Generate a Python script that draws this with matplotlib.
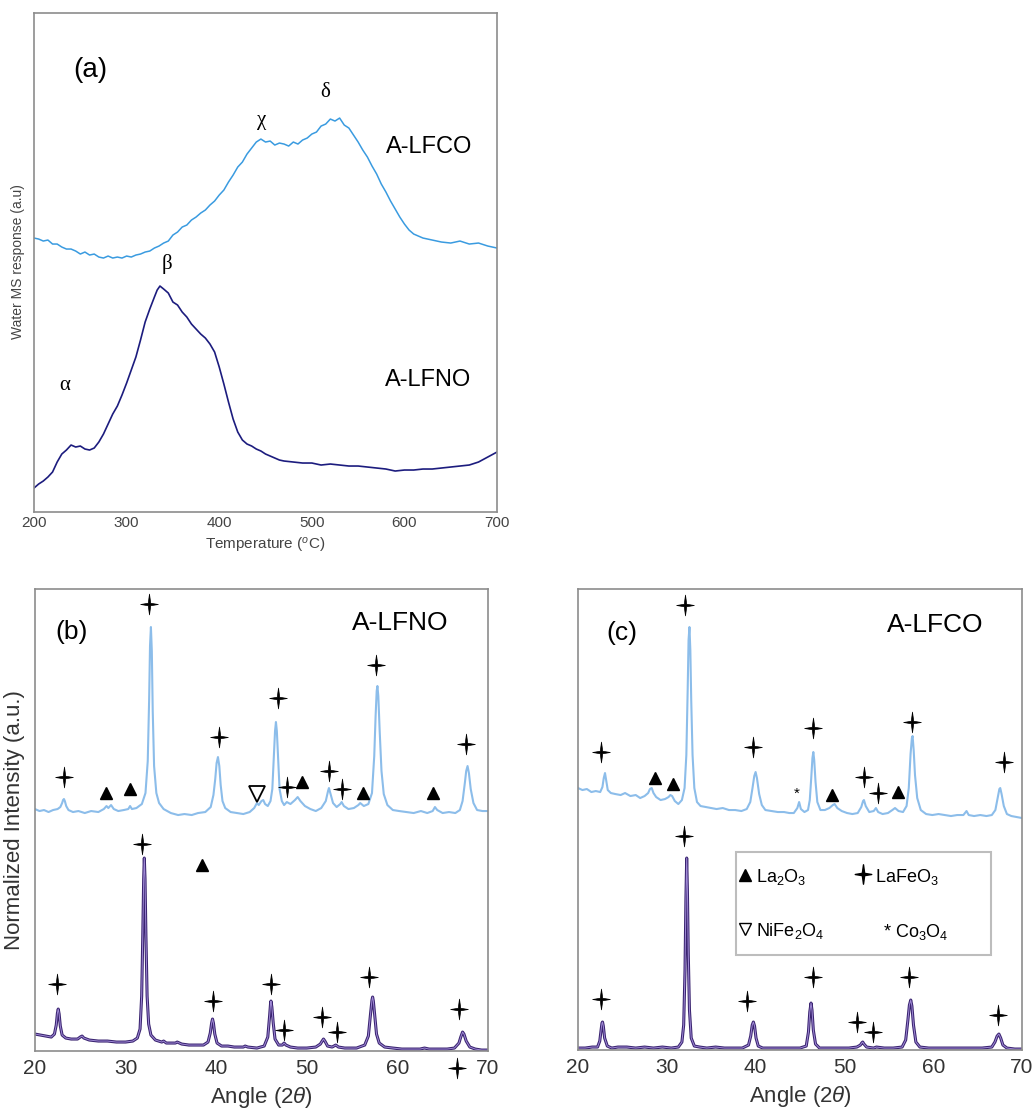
import matplotlib
matplotlib.use('Agg')
import matplotlib.pyplot as plt
from matplotlib.path import Path
from matplotlib.patches import Rectangle

# ---- (a) water TPD traces: (temperature C, response a.u.) ----
lfco_tpd = [(200, 274), (205, 273), (210, 271), (215, 272), (220, 268), (225, 268), (230, 265),
            (235, 263), (240, 263), (245, 261), (250, 258), (255, 260), (260, 257), (265, 258),
            (270, 255), (275, 254), (280, 256), (285, 254), (290, 255), (295, 254), (300, 256),
            (305, 255), (310, 257), (315, 258), (320, 260), (325, 261), (330, 264), (335, 266),
            (340, 269), (345, 271), (350, 277), (355, 280), (360, 285), (365, 287), (370, 292),
            (375, 295), (380, 299), (385, 302), (390, 307), (395, 311), (400, 317), (405, 322),
            (410, 330), (415, 337), (420, 345), (425, 350), (430, 358), (435, 364), (440, 370),
            (445, 373), (450, 370), (455, 371), (460, 367), (465, 369), (470, 368), (475, 366),
            (480, 370), (485, 368), (490, 372), (495, 374), (500, 378), (505, 380), (510, 386),
            (515, 388), (520, 393), (525, 391), (530, 394), (535, 387), (540, 384), (545, 377),
            (550, 370), (555, 362), (560, 355), (565, 346), (570, 338), (575, 328), (580, 320),
            (585, 311), (590, 303), (595, 295), (600, 288), (605, 282), (610, 278), (615, 276),
            (620, 274), (630, 272), (640, 270), (650, 269), (660, 271), (670, 268), (680, 269),
            (690, 266), (700, 264)]

lfno_tpd = [(200, 24), (205, 28), (210, 31), (215, 35), (220, 40), (225, 50), (230, 58),
            (235, 62), (240, 67), (245, 65), (250, 66), (255, 63), (260, 62), (265, 64),
            (270, 70), (275, 78), (280, 88), (285, 98), (290, 106), (295, 117), (300, 129),
            (305, 142), (310, 155), (315, 172), (320, 190), (325, 203), (330, 215), (333, 222),
            (336, 226), (340, 223), (345, 219), (350, 210), (355, 207), (360, 200), (365, 195),
            (370, 188), (375, 183), (380, 178), (385, 174), (390, 168), (395, 160), (400, 145),
            (405, 128), (410, 110), (415, 93), (420, 80), (425, 72), (430, 68), (435, 66),
            (440, 63), (445, 61), (450, 58), (455, 56), (460, 54), (465, 52), (470, 51),
            (480, 50), (490, 49), (500, 49), (510, 47), (520, 48), (530, 47), (540, 46),
            (550, 46), (560, 45), (570, 44), (580, 43), (590, 41), (600, 42), (610, 42),
            (620, 43), (630, 43), (640, 44), (650, 45), (660, 46), (670, 47), (680, 50),
            (690, 55), (700, 60)]

# ---- (b) XRD A-LFNO: (2theta, intensity), used sample on top, fresh below ----
b_top = [(20.0, 242), (20.5, 240), (21.0, 241), (21.5, 239), (22.0, 241), (22.5, 242), (22.8, 244),
         (23.0, 248), (23.1, 251), (23.2, 252), (23.3, 250), (23.45, 245), (23.7, 241), (24.2, 239),
         (24.8, 240), (25.5, 238), (26.2, 240), (27.0, 239), (27.6, 242), (27.9, 245), (28.1, 243),
         (28.4, 246), (28.7, 242), (29.2, 240), (29.8, 241), (30.3, 242), (30.5, 245), (30.7, 242),
         (31.2, 243), (31.8, 247), (32.2, 258), (32.45, 290), (32.6, 350), (32.7, 405), (32.8, 424),
         (32.9, 400), (33.0, 340), (33.15, 285), (33.4, 258), (33.7, 248), (34.2, 242), (35.0, 238),
         (35.8, 236), (36.5, 237), (37.3, 236), (38.0, 238), (38.8, 239), (39.4, 244), (39.7, 256),
         (39.9, 272), (40.05, 288), (40.2, 294), (40.35, 285), (40.5, 266), (40.7, 250), (41.0, 243),
         (41.6, 239), (42.3, 238), (43.0, 237), (43.7, 239), (44.2, 243), (44.5, 248), (44.7, 246),
         (45.0, 250), (45.2, 251), (45.4, 247), (45.7, 245), (46.0, 250), (46.2, 262), (46.35, 290),
         (46.5, 320), (46.6, 329), (46.7, 320), (46.85, 290), (47.0, 262), (47.25, 250), (47.5, 246),
         (47.8, 249), (48.2, 247), (48.7, 251), (49.0, 254), (49.3, 250), (49.8, 245), (50.4, 242),
         (51.0, 240), (51.6, 243), (52.1, 250), (52.35, 260), (52.45, 263), (52.6, 258), (52.9, 248),
         (53.3, 244), (53.7, 247), (53.85, 249), (54.1, 245), (54.6, 242), (55.2, 243), (55.7, 246),
         (55.9, 248), (56.3, 245), (56.8, 247), (57.2, 258), (57.45, 295), (57.6, 335), (57.72, 360),
         (57.8, 365), (57.9, 355), (58.05, 320), (58.25, 280), (58.5, 257), (58.9, 246), (59.5, 241),
         (60.2, 240), (61.0, 239), (61.8, 238), (62.6, 240), (63.3, 238), (63.9, 240), (64.15, 244),
         (64.4, 241), (65.0, 238), (65.7, 239), (66.4, 238), (66.9, 241), (67.2, 250), (67.45, 268),
         (67.6, 280), (67.75, 285), (67.9, 278), (68.1, 262), (68.4, 248), (68.8, 241), (69.4, 240),
         (70.0, 240)]

b_bot = [(20.0, 17), (20.6, 16), (21.2, 15), (21.8, 14), (22.15, 17), (22.35, 26), (22.48, 38),
         (22.57, 42), (22.67, 37), (22.8, 25), (23.0, 16), (23.4, 13), (24.0, 12), (24.7, 12),
         (25.0, 14), (25.2, 15), (25.4, 13), (26.0, 11), (27.0, 10), (28.0, 10), (29.0, 9),
         (30.0, 9), (30.8, 10), (31.3, 13), (31.6, 22), (31.78, 55), (31.9, 115), (32.0, 172),
         (32.07, 193), (32.15, 172), (32.25, 115), (32.38, 55), (32.55, 27), (32.8, 16), (33.3, 11),
         (34.0, 9), (34.2, 10), (34.5, 8), (35.5, 8), (35.7, 9), (36.2, 7), (37.0, 6), (38.0, 6),
         (38.6, 6), (39.1, 9), (39.35, 18), (39.5, 28), (39.6, 32), (39.7, 28), (39.85, 17),
         (40.1, 8), (40.6, 5), (41.3, 5), (42.0, 4), (43.0, 4), (43.2, 5), (43.5, 4), (44.5, 3),
         (45.3, 5), (45.7, 14), (45.9, 35), (46.0, 47), (46.05, 50), (46.15, 44), (46.3, 28),
         (46.5, 12), (46.9, 6), (47.3, 6), (47.5, 8), (47.7, 6), (48.2, 4), (49.0, 3), (50.0, 3),
         (51.0, 4), (51.5, 7), (51.7, 10), (51.85, 12), (52.0, 10), (52.3, 5), (52.8, 4),
         (53.2, 6), (53.5, 4), (54.2, 3), (55.5, 3), (56.4, 6), (56.8, 15), (57.05, 38), (57.2, 51),
         (57.27, 54), (57.35, 50), (57.5, 36), (57.7, 17), (58.0, 8), (58.6, 4), (59.5, 3),
         (60.5, 2), (61.5, 2), (62.5, 2), (63.0, 3), (63.5, 2), (64.5, 2), (65.5, 2), (66.3, 3),
         (66.8, 8), (67.0, 14), (67.2, 19), (67.35, 17), (67.6, 10), (68.0, 4), (68.6, 2),
         (69.3, 1), (70.0, 1)]

# ---- (c) XRD A-LFCO ----
c_top = [(20.0, 262), (20.5, 260), (21.0, 261), (21.5, 258), (22.0, 259), (22.5, 258), (22.75, 263),
         (22.9, 272), (23.04, 277), (23.15, 271), (23.35, 260), (23.7, 257), (24.2, 256), (24.8, 255),
         (25.3, 257), (25.9, 254), (26.5, 255), (27.0, 252), (27.5, 254), (27.9, 257), (28.1, 261),
         (28.3, 262), (28.5, 257), (28.8, 253), (29.3, 250), (29.8, 251), (30.2, 253), (30.4, 255),
         (30.6, 254), (30.9, 249), (31.3, 246), (31.7, 250), (32.0, 262), (32.2, 295), (32.35, 360),
         (32.45, 410), (32.55, 423), (32.65, 400), (32.75, 350), (32.9, 295), (33.1, 262), (33.4, 248),
         (33.8, 244), (34.4, 243), (35.0, 242), (35.6, 241), (36.3, 242), (37.0, 240), (37.7, 240),
         (38.4, 239), (39.0, 241), (39.4, 248), (39.65, 262), (39.85, 274), (40.0, 278), (40.15, 272),
         (40.4, 256), (40.7, 245), (41.1, 240), (41.8, 239), (42.5, 238), (43.2, 238), (43.8, 237),
         (44.3, 237), (44.7, 242), (44.9, 248), (45.1, 241), (45.5, 238), (45.9, 240), (46.1, 250),
         (46.25, 270), (46.4, 292), (46.5, 298), (46.6, 290), (46.75, 268), (46.95, 248), (47.3, 240),
         (47.8, 240), (48.3, 242), (48.7, 245), (48.9, 246), (49.2, 242), (49.7, 239), (50.3, 237),
         (50.9, 236), (51.5, 237), (51.9, 243), (52.1, 249), (52.2, 250), (52.4, 244), (52.8, 238),
         (53.3, 239), (53.55, 242), (53.8, 238), (54.3, 236), (54.9, 237), (55.4, 240), (55.7, 242),
         (56.1, 239), (56.6, 238), (57.0, 244), (57.25, 262), (57.45, 296), (57.6, 312), (57.68, 314),
         (57.8, 300), (57.95, 275), (58.2, 252), (58.6, 240), (59.2, 236), (59.9, 235), (60.6, 236),
         (61.3, 235), (62.0, 234), (62.7, 235), (63.4, 235), (63.75, 239), (64.0, 235), (64.6, 234),
         (65.3, 235), (66.0, 234), (66.6, 235), (67.0, 240), (67.25, 252), (67.45, 261), (67.55, 262),
         (67.7, 256), (67.95, 244), (68.3, 236), (68.8, 234), (69.4, 233), (70.0, 232)]

c_bot = [(20.0, 2), (20.8, 2), (21.6, 3), (22.2, 3), (22.45, 9), (22.6, 20), (22.7, 27), (22.76, 28),
         (22.85, 24), (23.0, 12), (23.3, 4), (23.8, 2), (24.5, 3), (25.5, 3), (26.5, 2), (27.5, 3),
         (28.5, 2), (29.5, 3), (30.5, 2), (31.3, 3), (31.7, 8), (31.9, 25), (32.05, 80), (32.15, 150),
         (32.24, 192), (32.32, 160), (32.42, 95), (32.55, 40), (32.75, 12), (33.1, 4), (33.7, 3),
         (34.5, 2), (35.5, 3), (36.5, 2), (37.5, 2), (38.5, 2), (39.2, 5), (39.45, 14), (39.62, 25),
         (39.75, 28), (39.88, 24), (40.05, 12), (40.3, 4), (40.8, 2), (42.0, 2), (43.5, 2), (45.0, 2),
         (45.7, 4), (45.95, 18), (46.1, 38), (46.24, 47), (46.35, 40), (46.5, 20), (46.75, 6),
         (47.2, 2), (48.5, 2), (49.5, 2), (50.5, 2), (51.4, 3), (51.8, 5), (51.95, 7), (52.06, 8),
         (52.2, 6), (52.5, 3), (53.3, 2), (53.6, 3), (54.5, 2), (55.5, 2), (56.5, 3), (56.9, 10),
         (57.15, 30), (57.32, 45), (57.47, 50), (57.6, 44), (57.78, 25), (58.05, 8), (58.5, 3),
         (59.5, 2), (61.0, 2), (62.5, 2), (64.0, 2), (65.5, 2), (66.6, 3), (66.95, 8), (67.2, 14),
         (67.4, 16), (67.6, 12), (67.85, 5), (68.3, 2), (69.2, 1), (70.0, 1)]

# phase markers (2theta, height)
b_lafeo3 = [(23.2, 274), (32.6, 447), (40.3, 314), (46.85, 353), (47.85, 264), (52.45, 280),
            (53.9, 262), (57.6, 386), (67.57, 307),
            (22.4, 67), (31.78, 207), (39.68, 50), (46.05, 67), (47.48, 21), (51.7, 34),
            (53.37, 19), (56.9, 74), (66.84, 42), (66.6, -17)]
b_la2o3 = [(27.8, 258), (30.5, 262), (49.5, 269), (56.2, 258), (63.9, 258), (38.43, 186)]
b_nife2o4 = [(44.5, 257)]

c_lafeo3 = [(22.6, 298), (32.05, 445), (39.67, 303), (46.5, 322), (52.24, 273), (53.8, 257),
            (57.65, 328), (68.0, 288),
            (22.55, 51), (31.97, 214), (39.0, 49), (46.5, 73), (51.38, 28), (53.26, 18),
            (57.27, 73), (67.33, 35)]
c_la2o3 = [(28.67, 272), (30.73, 266), (48.57, 255), (56.07, 258)]
c_co3o4 = [(44.6, 256)]

plt.rcParams['font.family'] = ['Liberation Sans', 'DejaVu Sans']
plt.rcParams['mathtext.fontset'] = 'custom'
plt.rcParams['mathtext.rm'] = 'Liberation Sans'
plt.rcParams['mathtext.it'] = 'Liberation Sans:italic'

# four-pointed star for the perovskite reflections
star = Path([(0, 1), (0.12, 0.12), (0.85, 0), (0.12, -0.12), (0, -1), (-0.12, -0.12),
             (-0.85, 0), (-0.12, 0.12), (0, 1)],
            [Path.MOVETO] + [Path.LINETO] * 7 + [Path.CLOSEPOLY])

FRAME = '#8c8c8c'
TOP_BLUE = '#8cbdea'


def xy(points):
    return [p[0] for p in points], [p[1] for p in points]


def style_frame(ax, size, color):
    for s in ax.spines.values():
        s.set_color(FRAME)
        s.set_linewidth(1.2)
    ax.set_yticks([])
    ax.tick_params(axis='x', length=0, labelsize=size, colors=color)


def purple_line(ax, points):
    x, y = xy(points)
    ax.plot(x, y, color='#3a2470', lw=2.2)
    ax.plot(x, y, color='#a08ad6', lw=0.7)


def draw_markers(ax, stars, tris, down=None, asterisk=None):
    for a, h in stars:
        ax.plot(a, h, marker=star, ms=15, color='black', mec='black', mew=0.5,
                clip_on=False)
    for a, h in tris:
        ax.plot(a, h, marker='^', ms=8.5, color='black')
    for a, h in (down or []):
        ax.plot(a, h, marker='v', ms=12, mfc='white', mec='black', mew=1.3)
    for a, h in (asterisk or []):
        ax.text(a, h, '*', fontsize=11, ha='center', va='center')


fig = plt.figure(figsize=(10.34, 11.16), dpi=100)

# ---------------- (a) ----------------
ax_a = fig.add_axes([0.0329, 0.5412, 0.4478, 0.4471])
ax_a.plot(*xy(lfco_tpd), color='#3a9be0', lw=1.1)
ax_a.plot(*xy(lfno_tpd), color='#1c1c7e', lw=1.2)
ax_a.set_xlim(200, 700)
ax_a.set_ylim(0, 499)
ax_a.set_xticks([200, 300, 400, 500, 600, 700])
style_frame(ax_a, 11, '#444444')
ax_a.tick_params(axis='x', pad=3)
ax_a.set_xlabel('Temperature ($^{o}$C)', fontsize=11, color='#444444', labelpad=4)
fig.text(18 / 1034, 1 - 262 / 1116, 'Water MS response (a.u)', rotation=90,
         fontsize=10, color='#444444', ha='center', va='center')
ax_a.text(260.5, 442, '(a)', fontsize=20, ha='center', va='center')
ax_a.text(627, 365, 'A-LFCO', fontsize=17, ha='center', va='center')
ax_a.text(625, 132, 'A-LFNO', fontsize=17, ha='center', va='center')
greek = {'χ': (446, 392), 'δ': (514, 420), 'β': (343.6, 248), 'α': (233.5, 127)}
for g, (t, h) in greek.items():
    ax_a.text(t, h, g, fontsize=15, ha='center', va='center',
              family=['Liberation Serif', 'DejaVu Serif'])

# ---------------- (b) ----------------
ax_b = fig.add_axes([0.0338, 0.0582, 0.4381, 0.414])
ax_b.plot(*xy(b_top), color=TOP_BLUE, lw=1.5)
purple_line(ax_b, b_bot)
ax_b.set_xlim(20, 70)
ax_b.set_ylim(0, 462)
ax_b.set_xticks([20, 30, 40, 50, 60, 70])
style_frame(ax_b, 15, '#333333')
ax_b.tick_params(axis='x', pad=6)
ax_b.set_xlabel(r'Angle (2$\it{\theta}$)', fontsize=16, color='#333333', labelpad=5)
fig.text(15 / 1034, 1 - 820 / 1116, 'Normalized Intensity (a.u.)', rotation=90,
         fontsize=16, color='#333333', ha='center', va='center')
ax_b.text(24.05, 419, '(b)', fontsize=19, ha='center', va='center')
ax_b.text(60.3, 428, 'A-LFNO', fontsize=19, ha='center', va='center')
draw_markers(ax_b, b_lafeo3, b_la2o3, down=b_nife2o4)

# ---------------- (c) ----------------
ax_c = fig.add_axes([0.559, 0.0591, 0.4294, 0.4131])
ax_c.plot(*xy(c_top), color=TOP_BLUE, lw=1.5)
purple_line(ax_c, c_bot)
ax_c.set_xlim(20, 70)
ax_c.set_ylim(0, 461)
ax_c.set_xticks([20, 30, 40, 50, 60, 70])
style_frame(ax_c, 15, '#333333')
ax_c.tick_params(axis='x', pad=6)
ax_c.set_xlabel(r'Angle (2$\it{\theta}$)', fontsize=16, color='#333333', labelpad=5)
ax_c.text(24.9, 417, '(c)', fontsize=19, ha='center', va='center')
ax_c.text(60.2, 425, 'A-LFCO', fontsize=19, ha='center', va='center')
draw_markers(ax_c, c_lafeo3, c_la2o3, asterisk=c_co3o4)

# phase key inside (c)
tr = ax_c.transAxes
ax_c.add_patch(Rectangle((0.356, 0.206), 0.574, 0.2235, transform=tr, fill=False,
                         ec='#bdbdbd', lw=1.5))
ax_c.plot(0.377, 0.379, marker='^', ms=9, color='black', transform=tr)
ax_c.text(0.400, 0.375, 'La$_2$O$_3$', fontsize=13, va='center', transform=tr)
ax_c.plot(0.642, 0.381, marker=star, ms=14, color='black', transform=tr)
ax_c.text(0.668, 0.375, 'LaFeO$_3$', fontsize=13, va='center', transform=tr)
ax_c.plot(0.377, 0.262, marker='v', ms=8, mfc='white', mec='black', mew=1.0, transform=tr)
ax_c.text(0.400, 0.258, 'NiFe$_2$O$_4$', fontsize=13, va='center', transform=tr)
ax_c.text(0.686, 0.255, '* Co$_3$O$_4$', fontsize=13, va='center', transform=tr)

fig.savefig('out.png', dpi=100)
